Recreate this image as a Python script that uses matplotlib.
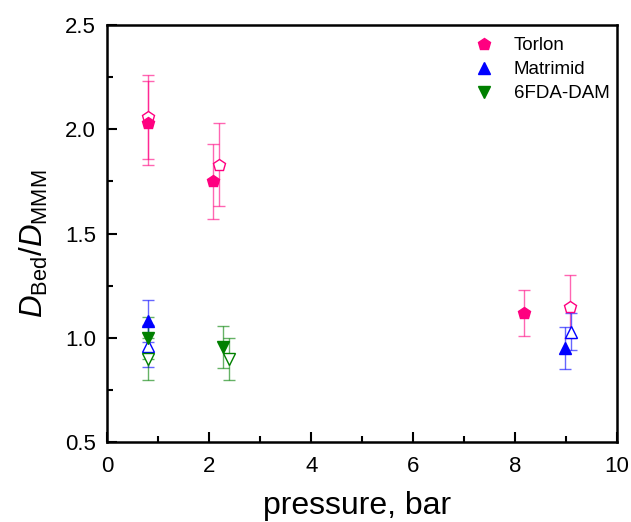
import matplotlib.pyplot as plt
from matplotlib.lines import Line2D
from matplotlib.ticker import MultipleLocator

plt.rcParams['font.family'] = ['Liberation Sans', 'DejaVu Sans']
plt.rcParams['mathtext.fontset'] = 'custom'
plt.rcParams['mathtext.rm'] = 'Liberation Sans'
plt.rcParams['mathtext.it'] = 'Liberation Sans:italic'

# Torlon
torlon_p = [0.80, 2.08, 8.18]
torlon_d = [2.03, 1.75, 1.12]
torlon_err = [0.20, 0.18, 0.11]
torlon_p_open = [0.80, 2.20, 9.08]
torlon_d_open = [2.06, 1.83, 1.15]
torlon_err_open = [0.20, 0.20, 0.15]

# Matrimid
matr_p = [0.79, 8.98]
matr_d = [1.08, 0.95]
matr_err = [0.10, 0.10]
matr_p_open = [0.80, 9.10]
matr_d_open = [0.96, 1.03]
matr_err_open = [0.10, 0.09]

# 6FDA-DAM
fda_p = [0.80, 2.27]
fda_d = [1.00, 0.955]
fda_err = [0.10, 0.10]
fda_p_open = [0.80, 2.39]
fda_d_open = [0.90, 0.90]
fda_err_open = [0.10, 0.10]

labels = ['Torlon', 'Matrimid', '6FDA-DAM']
colors = ['#ff0080', '#0000ff', '#008000']
markers = ['p', '^', 'v']

fig = plt.figure(figsize=(6.31, 5.22), dpi=100)
ax = fig.add_axes([0.170, 0.153, 0.808, 0.799])


def draw(x, y, e, xo, yo, eo, color, marker):
    ax.errorbar(x, y, yerr=e, fmt='none', ecolor=color, elinewidth=1,
                capsize=4, capthick=1, alpha=0.6, zorder=2)
    ax.errorbar(xo, yo, yerr=eo, fmt='none', ecolor=color, elinewidth=1,
                capsize=4, capthick=1, alpha=0.6, zorder=2)
    ax.plot(xo, yo, ls='none', marker=marker, ms=9, mfc='white', mec=color,
            mew=1, zorder=3)
    ax.plot(x, y, ls='none', marker=marker, ms=9, color=color, mec=color,
            zorder=4)


draw(torlon_p, torlon_d, torlon_err, torlon_p_open, torlon_d_open,
     torlon_err_open, colors[0], markers[0])
draw(matr_p, matr_d, matr_err, matr_p_open, matr_d_open,
     matr_err_open, colors[1], markers[1])
draw(fda_p, fda_d, fda_err, fda_p_open, fda_d_open,
     fda_err_open, colors[2], markers[2])

ax.set_xlim(0, 10)
ax.set_ylim(0.5, 2.5)
ax.xaxis.set_major_locator(MultipleLocator(2))
ax.xaxis.set_minor_locator(MultipleLocator(1))
ax.yaxis.set_major_locator(MultipleLocator(0.5))
ax.yaxis.set_minor_locator(MultipleLocator(0.25))
ax.tick_params(which='both', direction='in', width=1.5, labelsize=16)
ax.tick_params(which='major', length=7)
ax.tick_params(which='minor', length=4)
ax.tick_params(axis='x', which='major', pad=10)
ax.tick_params(axis='y', which='major', pad=8)
for s in ax.spines.values():
    s.set_linewidth(1.8)

ax.set_xlabel('pressure, bar', fontsize=23)
ax.xaxis.set_label_coords(0.49, -0.118)
ax.set_ylabel(r'$\mathit{D}_{\mathrm{Bed}}/\mathit{D}_{\mathrm{MMM}}$', fontsize=22.5)
ax.yaxis.set_label_coords(-0.112, 0.475)

handles = [Line2D([], [], ls='none', marker=m, ms=9, color=c, mec=c)
           for m, c in zip(markers, colors)]
ax.legend(handles, labels, loc='upper left', frameon=False, fontsize=13.5,
          handletextpad=0.6, labelspacing=0.36, bbox_to_anchor=(0.669, 1.011))

fig.savefig('out.png', dpi=100)
